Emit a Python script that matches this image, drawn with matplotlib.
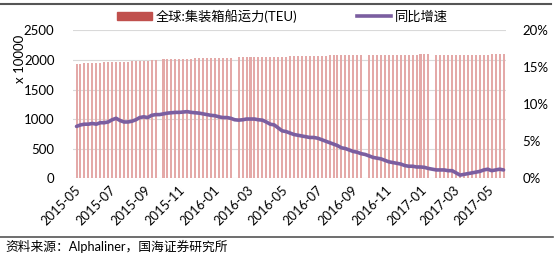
import numpy as np
import pandas as pd
import matplotlib
matplotlib.use("Agg")
import matplotlib.pyplot as plt
from matplotlib.lines import Line2D
from matplotlib.ticker import FuncFormatter

plt.rcParams['font.family'] = ['Lato', 'Noto Sans CJK SC', 'DejaVu Sans']

# weekly data, 2015-05 to 2017-05
weeks = pd.date_range('2015-05-04', periods=109, freq='7D')

# global container fleet capacity, x 10000 TEU (nan = week missing)
capacity = [1938, 1940, 1943, 1946, 1950, 1952, 1955, 1958, 1960, 1963, 1966,
            1968, 1971, 1974, 1977, 1980, 1984, 1987, 1990, 1994, 1998,
            np.nan,
            2010, 2012, 2014, 2016, 2018, 2020, 2022, 2024, 2026, 2028, 2030,
            2031, 2033, 2035, 2036, 2038, 2039, 2040,
            np.nan,
            2044, 2045, 2046, 2047, 2048, 2049, 2050, 2051, 2052, 2053, 2055,
            2057, 2058, 2060, 2062, 2064, 2066, 2068, 2070, 2072, 2074, 2075,
            2076, 2077, 2078, 2079, 2080, 2081, 2082, 2083, 2084, 2085,
            np.nan,
            2085, 2086, 2086, 2087, 2088, 2088, 2089, 2090, 2090, 2091, 2092,
            2092, 2093, 2094, 2095, 2096,
            np.nan,
            2080, 2081, 2082, 2083, 2084, 2085, 2086, 2087, 2088, 2089, 2090,
            2091, 2092, 2093, 2094, 2095, 2096, 2097]

# year-on-year growth, %
yoy = [7.0, 7.2, 7.3, 7.3, 7.4, 7.3, 7.5, 7.5, 7.6, 7.9, 8.1, 7.8, 7.6, 7.6,
       7.7, 7.9, 8.2, 8.3, 8.2, 8.5, 8.6, 8.6, 8.7, 8.8, 8.85, 8.9, 8.9, 8.95,
       9.0, 8.9, 8.85, 8.8, 8.7, 8.6, 8.5, 8.45, 8.3, 8.2, 8.2, 8.1, 7.9, 7.85,
       7.9, 8.0, 8.0, 8.0, 7.9, 7.85, 7.6, 7.3, 7.2, 6.8, 6.4, 6.3, 6.1, 5.9,
       5.8, 5.7, 5.6, 5.5, 5.5, 5.4, 5.2, 5.0, 4.8, 4.6, 4.4, 4.1, 4.0, 3.8,
       3.6, 3.5, 3.3, 3.2, 3.0, 2.8, 2.7, 2.6, 2.4, 2.2, 2.1, 2.0, 1.9, 1.7,
       1.6, 1.6, 1.5, 1.5, 1.45, 1.3, 1.2, 1.1, 1.1, 1.1, 1.0, 1.0, 0.7, 0.4,
       0.5, 0.6, 0.7, 0.8, 0.9, 1.1, 1.2, 1.0, 1.1, 1.2, 1.1]

tick_dates = pd.date_range('2015-05-01', '2017-05-01', freq='2MS')

fig = plt.figure(figsize=(5.54, 2.54), dpi=100)
ax = fig.add_axes([0.131, 0.299, 0.782, 0.581])
ax2 = ax.twinx()

ax.set_zorder(1)
ax2.set_zorder(2)
ax.patch.set_visible(False)

ax.bar(weeks, capacity, width=3.6, color='#E4A9A8', linewidth=0, zorder=2)
ax2.plot(weeks, yoy, color='#7B5EA0', lw=2.6, solid_capstyle='round')

ax.set_ylim(0, 2500)
ax.set_yticks(range(0, 2501, 500))
ax2.set_ylim(0, 20)
ax2.set_yticks(range(0, 21, 5))
ax2.yaxis.set_major_formatter(FuncFormatter(lambda v, p: '%d%%' % v))
ax.grid(axis='y', color='#D9D9D9', lw=0.8, zorder=0)
ax.set_axisbelow(True)

ax.set_xlim(pd.Timestamp('2015-04-27'), pd.Timestamp('2017-06-02'))
ax.set_xticks(tick_dates)
ax.set_xticklabels([d.strftime('%Y-%m') for d in tick_dates], rotation=45,
                   ha='right', rotation_mode='anchor')

for a in (ax, ax2):
    for s in a.spines.values():
        s.set_visible(False)
    a.tick_params(length=0, labelsize=9.5, colors='#000000')
ax.tick_params(axis='y', pad=13)
ax2.tick_params(axis='y', pad=12)
ax.tick_params(axis='x', pad=4, labelsize=9.3)

fig.text(0.036, 0.77, 'x 10000', rotation=90, ha='center', va='center', fontsize=9.5)

legend_handles = [plt.Rectangle((0, 0), 1, 1, color='#C0504D'),
                  Line2D([0], [0], color='#7B5EA0', lw=2.6)]
fig.legend(legend_handles, ['全球:集装箱船运力(TEU)', '同比增速'], ncol=2,
           loc='center', bbox_to_anchor=(0.51, 0.937), frameon=False,
           fontsize=9.5, handlelength=2.6, handleheight=0.6,
           columnspacing=4.5, handletextpad=0.3)

fig.add_artist(Line2D([0.0, 0.995], [0.984, 0.984], color='#555555', lw=1.5))
fig.add_artist(Line2D([0.0, 0.998], [0.068, 0.068], color='#555555', lw=1.2))
fig.text(0.009, 0.030, '资料来源：Alphaliner，国海证券研究所', fontsize=9.2,
         ha='left', va='center')

fig.savefig('out.png', dpi=100)
